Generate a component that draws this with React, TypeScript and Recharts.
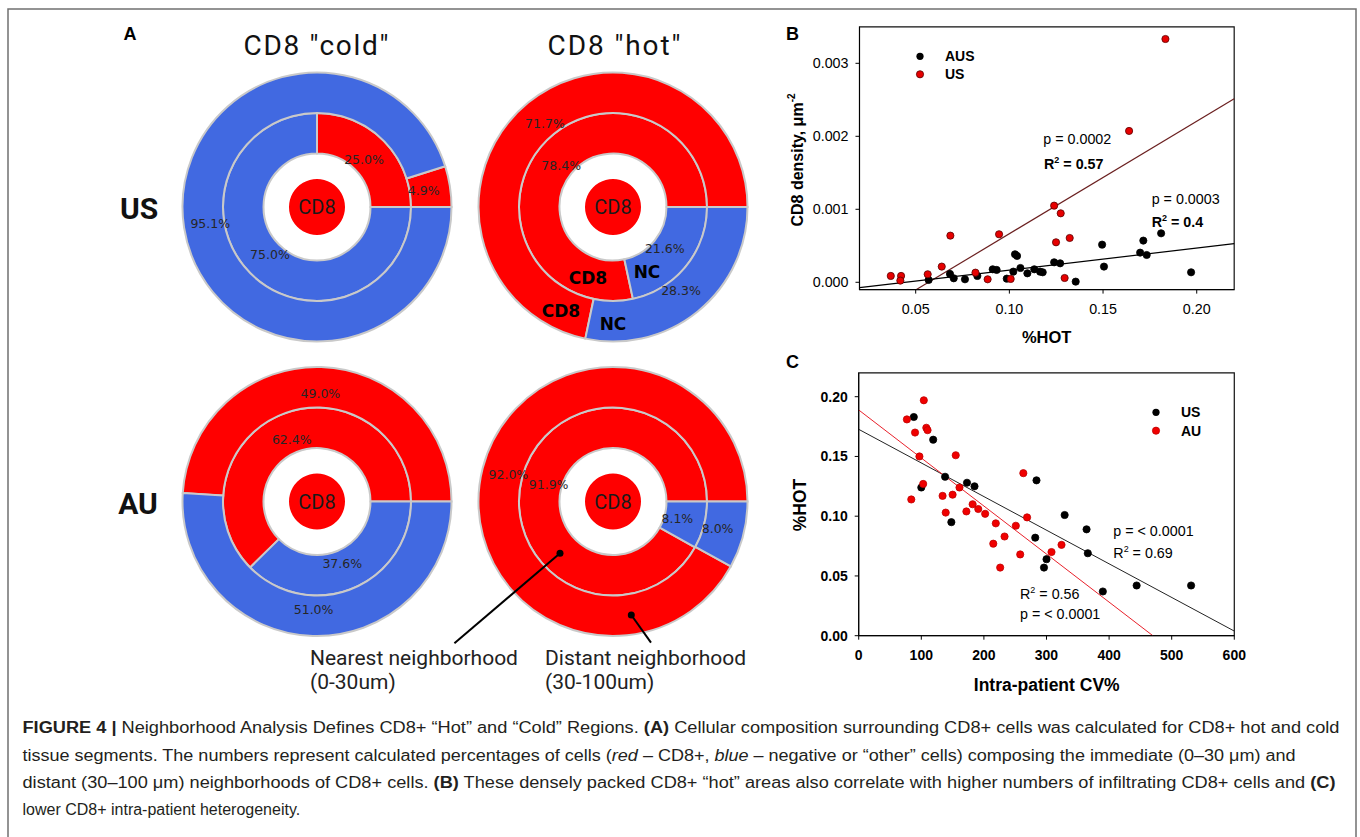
import {
  Pie,
  PieChart,
  ReferenceArea,
  ReferenceLine,
  Scatter,
  ScatterChart,
  XAxis,
  YAxis
} from "recharts";

const RED = "#ff0000";
const BLUE = "#4169e1";
const SANS = "Liberation Sans, Arial, sans-serif";

// panel A: share of CD8 / NC cells in nearest (0-30um) and distant (30-100um) rings
const cellTypes = ["CD8", "NC"];
const usColdNear = [25.0, 75.0];
const usColdDist = [4.9, 95.1];
const usHotNear = [78.4, 21.6];
const usHotDist = [71.7, 28.3];
const auColdNear = [62.4, 37.6];
const auColdDist = [49.0, 51.0];
const auHotNear = [91.9, 8.1];
const auHotDist = [92.0, 8.0];

// panel B: %HOT vs CD8 density
const bUsX = [0.0367, 0.0422, 0.0418, 0.0564, 0.0639, 0.0685, 0.0819, 0.0884, 0.0945, 0.1007, 0.1239, 0.1274, 0.1249, 0.1322, 0.1295, 0.1639, 0.1833];
const bUsY = [0.000087, 0.000087, 0.000023, 0.00011, 0.000215, 0.000639, 0.000132, 0.000041, 0.000658, 0.000046, 0.00105, 0.000945, 0.000548, 0.000607, 0.000059, 0.002073, 0.003333];
const bAusX = [0.0569, 0.0683, 0.0703, 0.0763, 0.0829, 0.0911, 0.0932, 0.0986, 0.1021, 0.103, 0.1041, 0.1059, 0.1096, 0.1133, 0.1164, 0.1178, 0.1239, 0.1271, 0.1354, 0.1495, 0.1505, 0.1698, 0.1715, 0.1733, 0.181, 0.197];
const bAusY = [0.000032, 0.000114, 0.000055, 0.000041, 0.000087, 0.000178, 0.000169, 0.00005, 0.000146, 0.000384, 0.000361, 0.000196, 0.000123, 0.000178, 0.000146, 0.000137, 0.000274, 0.00026, 0.000009, 0.000516, 0.000215, 0.000406, 0.000571, 0.000374, 0.000671, 0.000137];
const bFitUs = [0.01542, -0.000877]; // slope, intercept
const bFitAus = [0.003013, -0.000134];
const bXTicks = [0.05, 0.1, 0.15, 0.2];
const bYTicks = [0, 0.001, 0.002, 0.003];

// panel C: intra-patient CV% vs %HOT
const cUsX = [88, 119, 138, 100, 173, 185, 148, 284, 282, 300, 296, 329, 364, 366, 390, 444, 531];
const cUsY = [0.183, 0.164, 0.133, 0.124, 0.128, 0.125, 0.095, 0.13, 0.082, 0.064, 0.057, 0.101, 0.089, 0.069, 0.037, 0.042, 0.042];
const cAuX = [77, 104, 90, 108, 110, 97, 155, 103, 84, 134, 150, 161, 139, 172, 182, 191, 202, 219, 215, 233, 226, 251, 258, 263, 269, 308, 324];
const cAuY = [0.181, 0.197, 0.17, 0.174, 0.172, 0.15, 0.151, 0.127, 0.114, 0.117, 0.118, 0.124, 0.103, 0.104, 0.11, 0.106, 0.102, 0.094, 0.077, 0.083, 0.057, 0.092, 0.068, 0.136, 0.099, 0.07, 0.076];
const cFitUs = [-0.0002814, 0.1727];
const cFitAu = [-0.000402, 0.1889];
const cXTicks = [0, 100, 200, 300, 400, 500, 600];
const cYTicks = [0, 0.05, 0.1, 0.15, 0.2];

const bXDom: [number, number] = [0.02, 0.22];
const bYDom: [number, number] = [-0.0001, 0.0035];
const cXDom: [number, number] = [0, 600];
const cYDom: [number, number] = [0, 0.22];

const zip = (xs: number[], ys: number[]) => xs.map((x, i) => ({ x, y: ys[i] }));
const ring = (vals: number[]) =>
  vals.map((v, i) => ({ name: cellTypes[i], value: v, fill: i === 0 ? RED : BLUE }));

// clip a fitted line to the plot domain
function fitSegment(fit: number[], xd: [number, number], yd: [number, number]) {
  const [m, b] = fit;
  const xa = (yd[0] - b) / m;
  const xb = (yd[1] - b) / m;
  const lo = Math.max(xd[0], Math.min(xa, xb));
  const hi = Math.min(xd[1], Math.max(xa, xb));
  return [
    { x: lo, y: m * lo + b },
    { x: hi, y: m * hi + b }
  ];
}

const R_C = 28;
const R_IN = 53.5;
const R_MID = 94;
const R_OUT = 134.5;

const pctLabel = (r: number) => (p: any) => {
  const a = (-p.midAngle * Math.PI) / 180;
  return (
    <text
      x={p.cx + r * Math.cos(a)}
      y={p.cy + r * Math.sin(a)}
      textAnchor="middle"
      dominantBaseline="central"
      fontFamily="DejaVu Sans, sans-serif"
      fontSize={12.5}
      fill="#262626"
    >
      {Number(p.value).toFixed(1)}%
    </text>
  );
};

const donuts = [
  { cx: 317, cy: 207, near: usColdNear, dist: usColdDist },
  { cx: 613, cy: 207, near: usHotNear, dist: usHotDist },
  { cx: 317, cy: 501.5, near: auColdNear, dist: auColdDist },
  { cx: 613, cy: 501.5, near: auHotNear, dist: auHotDist }
];

const dot = (fill: string, stroke: string) => (p: any) => (
  <circle cx={p.cx} cy={p.cy} r={3.6} fill={fill} stroke={stroke} strokeWidth={0.8} />
);

const tickB = { fontSize: 14.3, fill: "#000", fontFamily: SANS };
const tickC = { fontSize: 14, fill: "#000", fontFamily: SANS, fontWeight: 700 };

function Sup({ base, sup, rest, bold }: { base: string; sup: string; rest: string; bold?: boolean }) {
  return (
    <>
      <tspan fontWeight={bold ? 700 : 400}>{base}</tspan>
      <tspan dy={-6} fontSize={9} fontWeight={bold ? 700 : 400}>{sup}</tspan>
      <tspan dy={6} fontWeight={bold ? 700 : 400}>{rest}</tspan>
    </>
  );
}

export default function App() {
  return (
    <div style={{ position: "absolute", left: 0, top: 0, width: 1360, height: 837, background: "#fff" }}>
      {/* panel A */}
      <div style={{ position: "absolute", left: 0, top: 0 }}>
        <PieChart width={780} height={700} margin={{ top: 0, right: 0, bottom: 0, left: 0 }}>
          {donuts.map((d, i) => (
            <Pie
              key={`c${i}`}
              data={[{ name: "CD8", value: 1, fill: RED }]}
              dataKey="value"
              cx={d.cx}
              cy={d.cy}
              innerRadius={0}
              outerRadius={R_C}
              stroke="none"
              isAnimationActive={false}
            />
          ))}
          {donuts.map((d, i) => (
            <Pie
              key={`n${i}`}
              data={ring(d.near)}
              dataKey="value"
              cx={d.cx}
              cy={d.cy}
              innerRadius={R_IN}
              outerRadius={R_MID}
              startAngle={0}
              endAngle={360}
              stroke="#c9c9c9"
              strokeWidth={2}
              label={pctLabel(66.5)}
              labelLine={false}
              isAnimationActive={false}
            />
          ))}
          {donuts.map((d, i) => (
            <Pie
              key={`d${i}`}
              data={ring(d.dist)}
              dataKey="value"
              cx={d.cx}
              cy={d.cy}
              innerRadius={R_MID}
              outerRadius={R_OUT}
              startAngle={0}
              endAngle={360}
              stroke="#c9c9c9"
              strokeWidth={2}
              label={pctLabel(108)}
              labelLine={false}
              isAnimationActive={false}
            />
          ))}
        </PieChart>
      </div>

      {/* panel B */}
      <div style={{ position: "absolute", left: 790, top: 16 }}>
        <ScatterChart width={474.2} height={333.6} margin={{ top: 10.8, right: 30, bottom: 0, left: 0 }}>
          <XAxis
            type="number"
            dataKey="x"
            domain={bXDom}
            ticks={bXTicks}
            interval={0}
            allowDataOverflow
            tickFormatter={(v) => Number(v).toFixed(2)}
            height={60}
            tickSize={4}
            tickMargin={10}
            tick={tickB}
            axisLine={{ stroke: "#000" }}
            tickLine={{ stroke: "#000" }}
          />
          <YAxis
            type="number"
            dataKey="y"
            domain={bYDom}
            ticks={bYTicks}
            interval={0}
            allowDataOverflow
            tickFormatter={(v) => Number(v).toFixed(3)}
            width={69.5}
            tickSize={4}
            tickMargin={7}
            tick={tickB}
            axisLine={{ stroke: "#000" }}
            tickLine={{ stroke: "#000" }}
          />
          <ReferenceArea x1={bXDom[0]} x2={bXDom[1]} y1={bYDom[0]} y2={bYDom[1]} fill="none" stroke="#111" strokeWidth={1.2} ifOverflow="visible" />
          <ReferenceLine segment={fitSegment(bFitUs, bXDom, bYDom)} stroke="#6b2020" strokeWidth={1.2} ifOverflow="visible" />
          <ReferenceLine segment={fitSegment(bFitAus, bXDom, bYDom)} stroke="#000" strokeWidth={1.2} ifOverflow="visible" />
          <Scatter data={zip(bAusX, bAusY)} shape={dot("#000", "#000")} isAnimationActive={false} />
          <Scatter data={zip(bUsX, bUsY)} shape={dot("#e60000", "#5a0000")} isAnimationActive={false} />
        </ScatterChart>
      </div>

      {/* panel C */}
      <div style={{ position: "absolute", left: 790, top: 360 }}>
        <ScatterChart width={474.3} height={345.7} margin={{ top: 12.8, right: 30, bottom: 0, left: 0 }}>
          <XAxis
            type="number"
            dataKey="x"
            domain={cXDom}
            ticks={cXTicks}
            interval={0}
            allowDataOverflow
            height={70}
            tickSize={4}
            tickMargin={10}
            tick={tickC}
            axisLine={{ stroke: "#000" }}
            tickLine={{ stroke: "#000" }}
          />
          <YAxis
            type="number"
            dataKey="y"
            domain={cYDom}
            ticks={cYTicks}
            interval={0}
            allowDataOverflow
            tickFormatter={(v) => Number(v).toFixed(2)}
            width={68.7}
            tickSize={4}
            tickMargin={7}
            tick={tickC}
            axisLine={{ stroke: "#000" }}
            tickLine={{ stroke: "#000" }}
          />
          <ReferenceArea x1={cXDom[0]} x2={cXDom[1]} y1={cYDom[0]} y2={cYDom[1]} fill="none" stroke="#111" strokeWidth={1.2} ifOverflow="visible" />
          <ReferenceLine segment={fitSegment(cFitUs, cXDom, cYDom)} stroke="#222" strokeWidth={1} ifOverflow="visible" />
          <ReferenceLine segment={fitSegment(cFitAu, cXDom, cYDom)} stroke="#e8202a" strokeWidth={1} ifOverflow="visible" />
          <Scatter data={zip(cUsX, cUsY)} shape={dot("#000", "#000")} isAnimationActive={false} />
          <Scatter data={zip(cAuX, cAuY)} shape={dot("#f00000", "#c00000")} isAnimationActive={false} />
        </ScatterChart>
      </div>

      {/* text and annotations */}
      <svg width={1360} height={837} style={{ position: "absolute", left: 0, top: 0, pointerEvents: "none" }}>
        <path d="M8 837 V9 H1356 V837" fill="none" stroke="#707070" strokeWidth={1.5} />

        <g fontFamily={SANS} fontWeight={700} fontSize={18} fill="#000">
          <text x={130} y={40} textAnchor="middle">A</text>
          <text x={792.5} y={40} textAnchor="middle">B</text>
          <text x={792.5} y={368} textAnchor="middle">C</text>
        </g>

        <g fontFamily="Roboto, sans-serif" fill="#111">
          <text x={316} y={55} fontSize={28} textAnchor="middle" textLength={145}>CD8 "cold"</text>
          <text x={614} y={55} fontSize={28} textAnchor="middle" textLength={133}>CD8 "hot"</text>
          <text x={139} y={218.5} fontSize={30} fontWeight={700} textAnchor="middle">US</text>
          <text x={138} y={514} fontSize={30} fontWeight={700} textAnchor="middle">AU</text>
          {donuts.map((d, i) => (
            <text key={i} x={d.cx} y={d.cy + 7} fontSize={20} textAnchor="middle" fill="#1a1a1a">CD8</text>
          ))}
        </g>

        <g fontFamily="DejaVu Sans, sans-serif" fontWeight={700} fontSize={17} fill="#000" textAnchor="middle" dominantBaseline="central">
          <text x={donuts[1].cx - 25} y={donuts[1].cy + 71}>CD8</text>
          <text x={donuts[1].cx + 34} y={donuts[1].cy + 65}>NC</text>
          <text x={donuts[1].cx - 52} y={donuts[1].cy + 104}>CD8</text>
          <text x={donuts[1].cx} y={donuts[1].cy + 117}>NC</text>
        </g>

        <g stroke="#000" strokeWidth={2}>
          <line x1={560} y1={553.3} x2={454.4} y2={643.3} />
          <line x1={631.3} y1={615} x2={651} y2={642.7} />
        </g>
        <circle cx={560} cy={553.3} r={3.5} fill="#000" />
        <circle cx={631.3} cy={615} r={3.5} fill="#000" />
        <g fontFamily="Roboto, sans-serif" fontSize={21} fill="#222">
          <text x={310} y={665}>Nearest neighborhood</text>
          <text x={310} y={689}>(0-30um)</text>
          <text x={545} y={665}>Distant neighborhood</text>
          <text x={545} y={689}>(30-100um)</text>
        </g>

        {/* panel B labels */}
        <g fontFamily={SANS} fill="#000">
          <text x={797} y={160} fontSize={16} fontWeight={700} textAnchor="middle" dominantBaseline="central" transform="rotate(-90 797 160)">
            CD8 density, μm<tspan dy={-6} fontSize={10}>-2</tspan>
          </text>
          <text x={1046.7} y={342.5} fontSize={16.5} fontWeight={700} textAnchor="middle">%HOT</text>
          <circle cx={920} cy={56.3} r={3.6} fill="#000" />
          <circle cx={920} cy={74.3} r={3.6} fill="#e60000" stroke="#5a0000" strokeWidth={0.8} />
          <text x={945} y={61.3} fontSize={14} fontWeight={700}>AUS</text>
          <text x={945} y={79.3} fontSize={14} fontWeight={700}>US</text>
          <text x={1043.3} y={144} fontSize={14.3}>p = 0.0002</text>
          <text x={1044} y={169} fontSize={14.3}><Sup base="R" sup="2" rest=" = 0.57" bold /></text>
          <text x={1151.7} y={204} fontSize={14.3}>p = 0.0003</text>
          <text x={1151.7} y={226.7} fontSize={14.3}><Sup base="R" sup="2" rest=" = 0.4" bold /></text>
        </g>

        {/* panel C labels */}
        <g fontFamily={SANS} fill="#000">
          <text x={800} y={505} fontSize={17.5} fontWeight={700} textAnchor="middle" dominantBaseline="central" transform="rotate(-90 800 505)">%HOT</text>
          <text x={1046.7} y={691} fontSize={17.5} fontWeight={700} textAnchor="middle">Intra-patient CV%</text>
          <circle cx={1156} cy={412.3} r={3.6} fill="#000" />
          <circle cx={1156} cy={430.7} r={3.6} fill="#f00000" stroke="#c00000" strokeWidth={0.8} />
          <text x={1181} y={417.3} fontSize={14} fontWeight={700}>US</text>
          <text x={1181} y={435.7} fontSize={14} fontWeight={700}>AU</text>
          <text x={1113.3} y={535.7} fontSize={14.3}>p = &lt; 0.0001</text>
          <text x={1113.3} y={558.3} fontSize={14.3}><Sup base="R" sup="2" rest=" = 0.69" /></text>
          <text x={1020} y={599.3} fontSize={14.3}><Sup base="R" sup="2" rest=" = 0.56" /></text>
          <text x={1020} y={619.3} fontSize={14.3}>p = &lt; 0.0001</text>
        </g>

        {/* caption */}
        <g fontFamily={SANS} fontSize={16} fill="#231f20">
          <text x={22.5} y={733} textLength={1317} lengthAdjust="spacingAndGlyphs">
            <tspan fontWeight={700}>FIGURE 4 | </tspan>
            Neighborhood Analysis Defines CD8+ “Hot” and “Cold” Regions. <tspan fontWeight={700}>(A)</tspan> Cellular composition surrounding CD8+ cells was calculated for CD8+ hot and cold
          </text>
          <text x={22.5} y={761} textLength={1273} lengthAdjust="spacingAndGlyphs">
            tissue segments. The numbers represent calculated percentages of cells (<tspan fontStyle="italic">red</tspan> – CD8+, <tspan fontStyle="italic">blue</tspan> – negative or “other” cells) composing the immediate (0–30 μm) and
          </text>
          <text x={22.5} y={788} textLength={1313} lengthAdjust="spacingAndGlyphs">
            distant (30–100 μm) neighborhoods of CD8+ cells. <tspan fontWeight={700}>(B)</tspan> These densely packed CD8+ “hot” areas also correlate with higher numbers of infiltrating CD8+ cells and <tspan fontWeight={700}>(C)</tspan>
          </text>
          <text x={22.5} y={815}>
            lower CD8+ intra-patient heterogeneity.
          </text>
        </g>
      </svg>
    </div>
  );
}
